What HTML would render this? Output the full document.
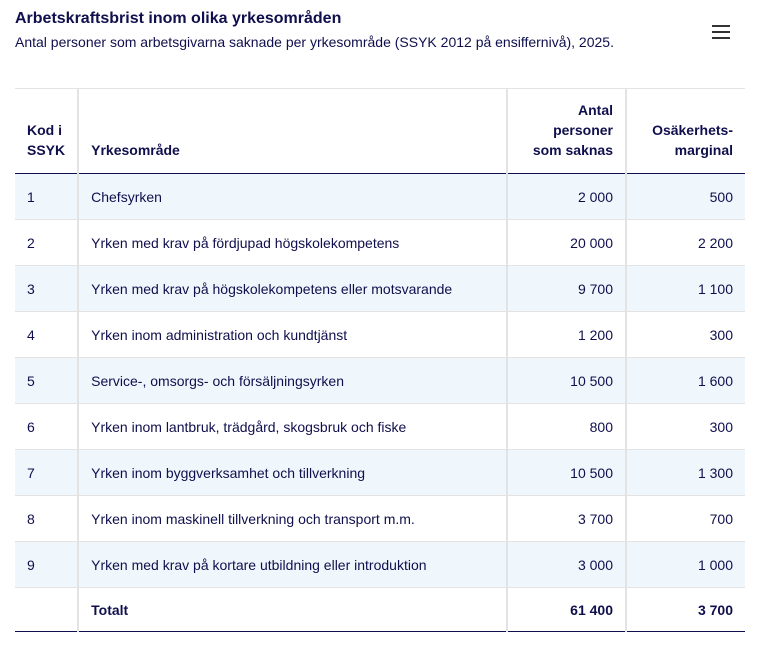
<!DOCTYPE html>
<html><head><meta charset="utf-8"><style>
body{margin:0;background:#fff;font-family:"Liberation Sans",sans-serif;color:#0f0f4d;width:759px;height:649px;overflow:hidden;position:relative}
.t{position:absolute;left:15px;top:10px;font-size:16px;font-weight:bold;color:#0f0f4d}
.s{position:absolute;left:15px;top:34px;font-size:14px;color:#0f0f4d}
.menu{position:absolute;left:712px;top:25px;width:18px}
.menu div{height:2px;background:#333;margin-bottom:4px}
table{position:absolute;left:15px;top:88px;width:730px;border-collapse:collapse;font-size:14px}
td,th{padding:0 12px;border-left:2px solid #e3e3e3;border-bottom:1px solid #e3e3e3}
td:first-child,th:first-child{border-left:none}
th{height:85px;box-sizing:border-box;vertical-align:bottom;padding-bottom:13px;text-align:left;font-weight:bold;line-height:20px;border-top:1px solid #e3e3e3;border-bottom:1.5px solid #0f0f4d}
td{height:45px}
tr.o td{background:#f0f7fc}
.r{text-align:right}
tr.tot td{font-weight:bold;border-top:1.5px solid #0f0f4d;border-bottom:1.5px solid #0f0f4d;height:43px}
</style></head><body>
<div class="t">Arbetskraftsbrist inom olika yrkesområden</div>
<div class="s">Antal personer som arbetsgivarna saknade per yrkesområde (SSYK 2012 på ensiffernivå), 2025.</div>
<div class="menu"><div></div><div></div><div></div></div>
<table>
<colgroup><col style="width:63px"><col style="width:429px"><col style="width:119px"><col style="width:119px"></colgroup>
<tr><th>Kod i<br>SSYK</th><th>Yrkesområde</th><th class="r">Antal<br>personer<br>som saknas</th><th class="r">Osäkerhets-<br>marginal</th></tr>
<tr class="o"><td>1</td><td>Chefsyrken</td><td class="r">2 000</td><td class="r">500</td></tr>
<tr><td>2</td><td>Yrken med krav på fördjupad högskolekompetens</td><td class="r">20 000</td><td class="r">2 200</td></tr>
<tr class="o"><td>3</td><td>Yrken med krav på högskolekompetens eller motsvarande</td><td class="r">9 700</td><td class="r">1 100</td></tr>
<tr><td>4</td><td>Yrken inom administration och kundtjänst</td><td class="r">1 200</td><td class="r">300</td></tr>
<tr class="o"><td>5</td><td>Service-, omsorgs- och försäljningsyrken</td><td class="r">10 500</td><td class="r">1 600</td></tr>
<tr><td>6</td><td>Yrken inom lantbruk, trädgård, skogsbruk och fiske</td><td class="r">800</td><td class="r">300</td></tr>
<tr class="o"><td>7</td><td>Yrken inom byggverksamhet och tillverkning</td><td class="r">10 500</td><td class="r">1 300</td></tr>
<tr><td>8</td><td>Yrken inom maskinell tillverkning och transport m.m.</td><td class="r">3 700</td><td class="r">700</td></tr>
<tr class="o"><td>9</td><td>Yrken med krav på kortare utbildning eller introduktion</td><td class="r">3 000</td><td class="r">1 000</td></tr>
<tr class="tot"><td></td><td>Totalt</td><td class="r">61 400</td><td class="r">3 700</td></tr>
</table>
</body></html>
